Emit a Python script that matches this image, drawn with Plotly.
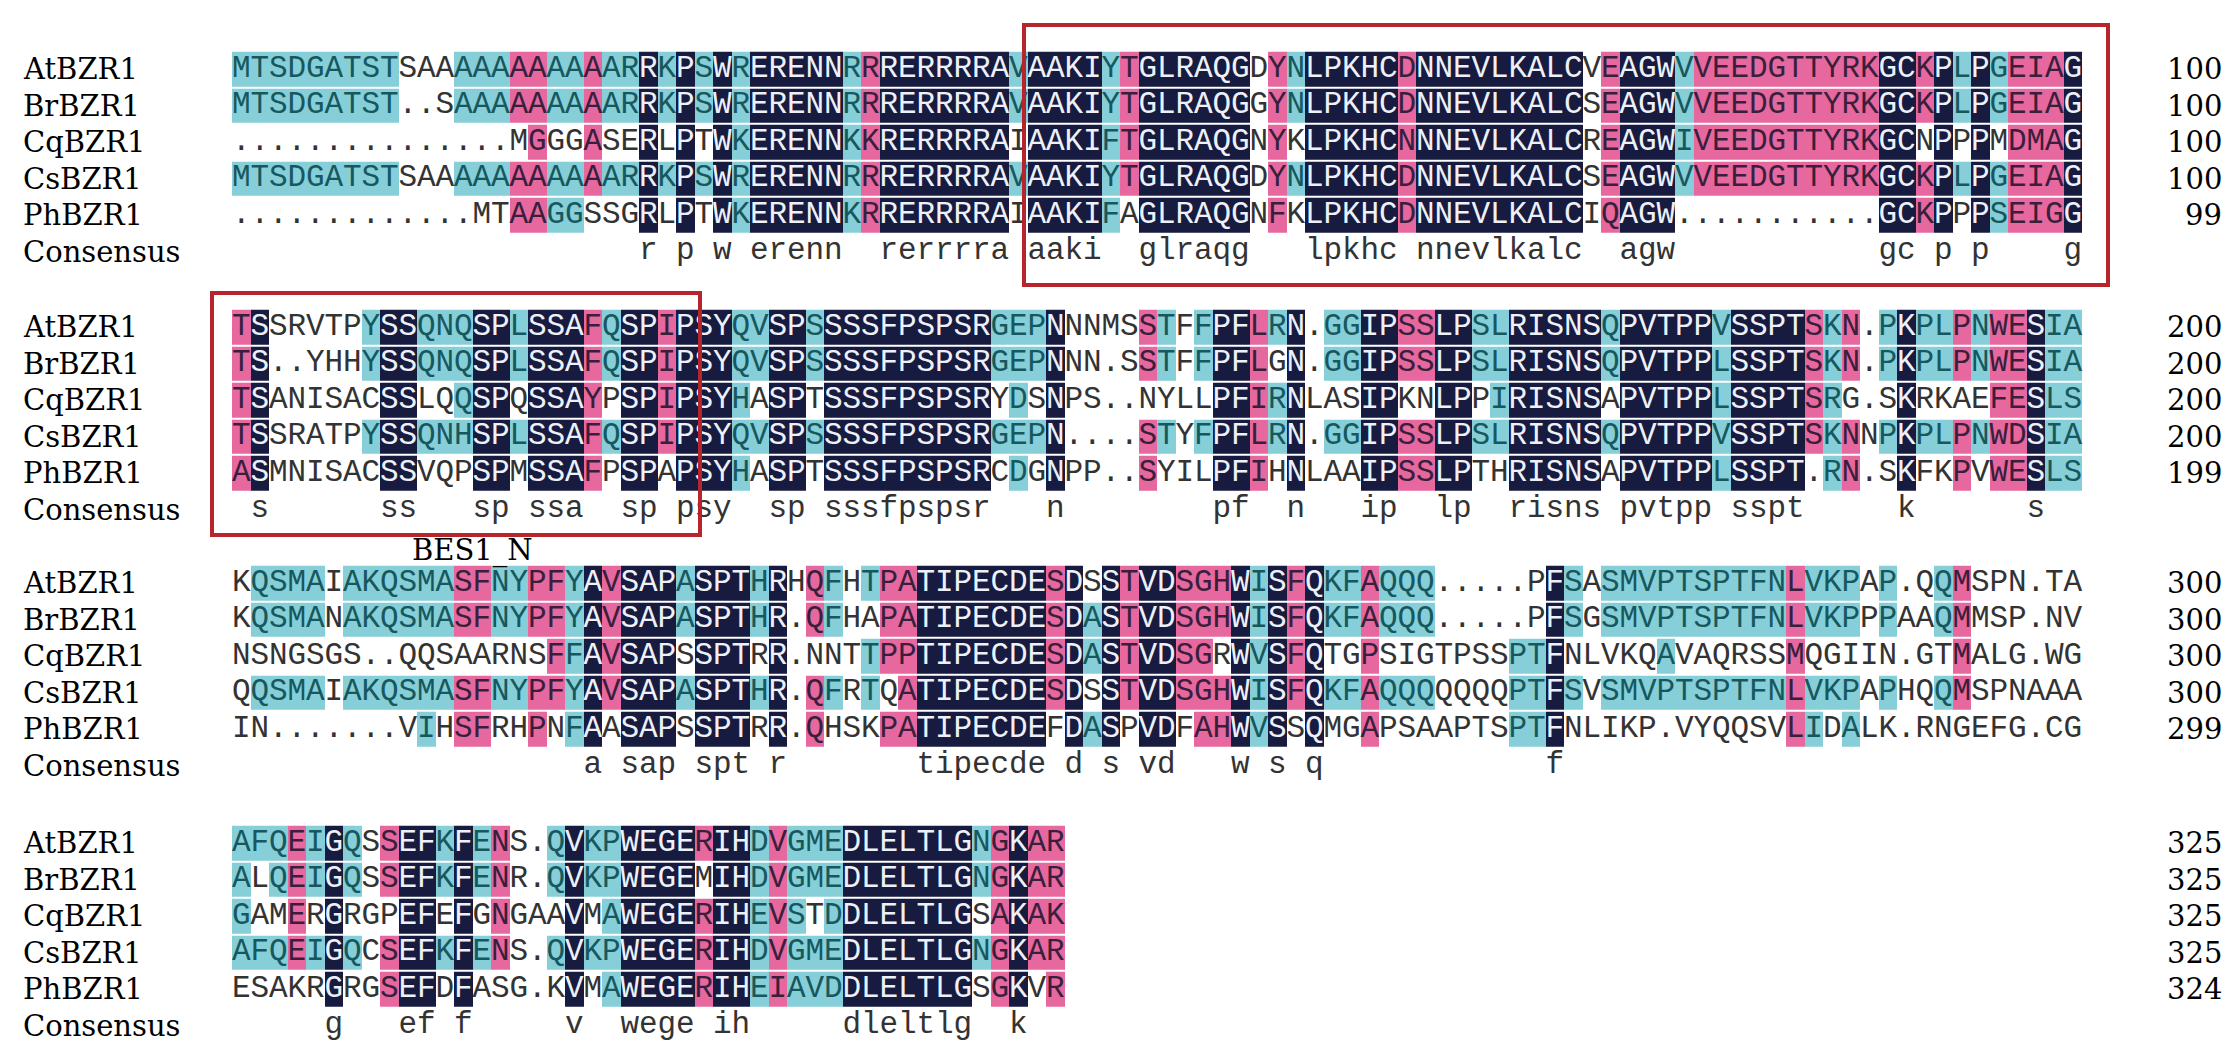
import plotly.graph_objects as go
import numpy as np

# ---------------- data ----------------
names = ["AtBZR1", "BrBZR1", "CqBZR1", "CsBZR1", "PhBZR1"]

At = ["MTSDGATSTSAAAAAAAAAAARRKPSWRERENNRRRERRRRAVAAKIYTGLRAQGDYNLPKHCDNNEVLKALCVEAGWVVEEDGTTYRKGCKPLPGEIAG",
      "TSSRVTPYSSQNQSPLSSAFQSPIPSYQVSPSSSSFPSPSRGEPNNNMSSTFFPFLRN.GGIPSSLPSLRISNSQPVTPPVSSPTSKN.PKPLPNWESIA",
      "KQSMAIAKQSMASFNYPFYAVSAPASPTHRHQFHTPATIPECDESDSSTVDSGHWISFQKFAQQQ.....PFSASMVPTSPTFNLVKPAP.QQMSPN.TA",
      "AFQEIGQSSEFKFENS.QVKPWEGERIHDVGMEDLELTLGNGKAR"]
Br = ["MTSDGATST..SAAAAAAAAARRKPSWRERENNRRRERRRRAVAAKIYTGLRAQGGYNLPKHCDNNEVLKALCSEAGWVVEEDGTTYRKGCKPLPGEIAG",
      "TS..YHHYSSQNQSPLSSAFQSPIPSYQVSPSSSSFPSPSRGEPNNN.SSTFFPFLGN.GGIPSSLPSLRISNSQPVTPPLSSPTSKN.PKPLPNWESIA",
      "KQSMANAKQSMASFNYPFYAVSAPASPTHR.QFHAPATIPECDESDASTVDSGHWISFQKFAQQQ.....PFSGSMVPTSPTFNLVKPPPAAQMMSP.NV",
      "ALQEIGQSSEFKFENR.QVKPWEGEMIHDVGMEDLELTLGNGKAR"]
Cq = ["...............MGGGASERLPTWKERENNKKRERRRRAIAAKIFTGLRAQGNYKLPKHCNNNEVLKALCREAGWIVEEDGTTYRKGCNPPPMDMAG",
      "TSANISACSSLQQSPQSSAYPSPIPSYHASPTSSSFPSPSRYDSNPS..NYLLPFIRNLASIPKNLPPIRISNSAPVTPPLSSPTSRG.SKRKAEFESLS",
      "NSNGSGS..QQSAARNSFFAVSAPSSPTRR.NNTTPPTIPECDESDASTVDSGRWVSFQTGPSIGTPSSPTFNLVKQAVAQRSSMQGIIN.GTMALG.WG",
      "GAMERGRGPEFEFGNGAAVMAWEGERIHEVSTDDLELTLGSAKAK"]
Cs = ["MTSDGATSTSAAAAAAAAAAARRKPSWRERENNRRRERRRRAVAAKIYTGLRAQGDYNLPKHCDNNEVLKALCSEAGWVVEEDGTTYRKGCKPLPGEIAG",
      "TSSRATPYSSQNHSPLSSAFQSPIPSYQVSPSSSSFPSPSRGEPN....STYFPFLRN.GGIPSSLPSLRISNSQPVTPPVSSPTSKNNPKPLPNWDSIA",
      "QQSMAIAKQSMASFNYPFYAVSAPASPTHR.QFRTQATIPECDESDSSTVDSGHWISFQKFAQQQQQQQPTFSVSMVPTSPTFNLVKPAPHQQMSPNAAA",
      "AFQEIGQCSEFKFENS.QVKPWEGERIHDVGMEDLELTLGNGKAR"]
Ph = [".............MTAAGGSSGRLPTWKERENNKRRERRRRAIAAKIFAGLRAQGNFKLPKHCDNNEVLKALCIQAGW...........GCKPPPSEIGG",
      "ASMNISACSSVQPSPMSSAFPSPAPSYHASPTSSSFPSPSRCDGNPP..SYILPFIHNLAAIPSSLPTHRISNSAPVTPPLSSPT.RN.SKFKPVWESLS",
      "IN.......VIHSFRHPNFAASAPSSPTRR.QHSKPATIPECDEFDASPVDFAHWVSSQMGAPSAAPTSPTFNLIKP.VYQQSVLIDALK.RNGEFG.CG",
      "ESAKRGRGSEFDFASG.KVMAWEGERIHEIAVDDLELTLGSGKVR"]

end_numbers = [[100, 100, 100, 100, 99],
               [200, 200, 200, 200, 199],
               [300, 300, 300, 300, 299],
               [325, 325, 325, 325, 324]]

domain_label = "BES1_N"

# shading read from the picture where it differs from plain identity counting
# (species index, block index, column, code)
overrides = [
    (2, 0, 17, 'p'), (4, 0, 18, 'c'), (4, 0, 19, 'c'), (2, 0, 28, 'c'), (4, 0, 28, 'c'),
    (2, 0, 34, 'c'), (4, 0, 34, 'c'), (2, 0, 35, 'p'), (2, 0, 48, 'c'), (4, 0, 48, 'c'),
    (4, 0, 57, 'p'), (2, 0, 64, 'p'), (4, 0, 75, 'p'), (2, 0, 79, 'c'), (4, 0, 96, 'c'),
    (2, 0, 97, 'p'), (2, 0, 98, 'p'), (4, 0, 99, 'p'),
    (4, 1, 1, 'p'), (3, 1, 13, 'c'), (2, 1, 20, 'p'), (2, 1, 28, 'c'), (4, 1, 28, 'c'),
    (2, 1, 43, 'c'), (4, 1, 43, 'c'), (0, 1, 56, 'p'), (1, 1, 56, 'p'), (2, 1, 56, 'p'),
    (3, 1, 56, 'p'), (4, 1, 56, 'p'), (2, 1, 69, 'c'), (0, 1, 81, 'c'), (3, 1, 81, 'c'),
    (2, 1, 87, 'c'), (4, 1, 87, 'c'), (2, 1, 96, 'p'), (3, 1, 97, 'p'), (2, 1, 99, 'c'),
    (4, 1, 99, 'c'), (2, 1, 100, 'c'), (4, 1, 100, 'c'),
    (4, 2, 11, 'c'), (2, 2, 19, 'c'), (4, 2, 19, 'c'), (2, 2, 37, 'p'), (4, 2, 53, 'p'),
    (2, 2, 56, 'c'), (4, 2, 56, 'c'), (2, 2, 62, 'p'), (2, 2, 78, 'c'), (2, 2, 85, 'p'),
    (4, 2, 86, 'c'), (4, 2, 88, 'c'),
    (2, 3, 1, 'c'), (0, 3, 2, 'c'), (3, 3, 2, 'c'), (2, 3, 21, 'c'), (4, 3, 21, 'c'),
    (2, 3, 29, 'c'), (4, 3, 29, 'c'), (4, 3, 30, 'p'), (2, 3, 31, 'c'), (4, 3, 31, 'c'),
    (4, 3, 32, 'c'), (2, 3, 33, 'c'), (4, 3, 33, 'c'), (2, 3, 42, 'p'), (2, 3, 45, 'p'),
]

# ---------------- styling / geometry ----------------
NAVY = "#161b3f"
PINK = "#e6689f"
CYAN = "#86cfd8"
RED = "#b5252b"
TXT = {'n': "#eef0f8", 'p': "#3a1f3c", 'c': "#17585e", 'w': "#333333"}

CW = 18.5                      # px per alignment column
X0 = 224                       # px of left edge of column 1
RP = 36.5                      # px per row
BLOCK_TOP = [61, 319, 575, 835]  # px centre of first row of each block
W, H = 2235, 1055


def X(px):
    return (px - X0) / CW + 0.5


seqs = [At, Br, Cq, Cs, Ph]
for s in seqs:
    for b, blk in enumerate(s):
        assert len(blk) == (100 if b < 3 else 45), (b, len(blk), blk)

shade = {}
consensus = {}
code_val = {'c': 1, 'p': 2, 'n': 3}

for b in range(4):
    L = len(At[b])
    for c in range(L):
        col = [s[b][c] for s in seqs]
        res = [r for r in col if r != '.']
        best, k = None, 0
        for r in sorted(set(res)):
            n = res.count(r)
            if n > k:
                best, k = r, n
        for i, r in enumerate(col):
            code = 'w'
            if r != '.' and r == best:
                code = {5: 'n', 4: 'p', 3: 'c'}.get(k, 'w')
            shade[(i, b, c + 1)] = code
        consensus[(b, c + 1)] = best.lower() if k == 5 else ''

for (i, b, c, code) in overrides:
    shade[(i, b, c)] = code


def row_y(b, i):
    return BLOCK_TOP[b] + i * RP


fig = go.Figure()
cscale = [[0, CYAN], [1 / 3, CYAN], [1 / 3, PINK], [2 / 3, PINK], [2 / 3, NAVY], [1, NAVY]]
for b in range(4):
    L = len(At[b])
    z = np.full((5, L), np.nan)
    for i in range(5):
        for c in range(1, L + 1):
            code = shade[(i, b, c)]
            if code in code_val:
                z[i, c - 1] = code_val[code]
    fig.add_trace(go.Heatmap(
        z=z, x=list(range(1, L + 1)), y=[row_y(b, i) for i in range(5)],
        zmin=0.5, zmax=3.5, colorscale=cscale,
        showscale=False, xgap=0, ygap=2, hoverinfo="skip"))

groups = {k: ([], [], []) for k in TXT}
for (i, b, c), code in shade.items():
    gx, gy, gt = groups[code]
    gx.append(c)
    gy.append(row_y(b, i))
    gt.append(seqs[i][b][c - 1])
for (b, c), ch in consensus.items():
    if ch:
        gx, gy, gt = groups['w']
        gx.append(c)
        gy.append(row_y(b, 5))
        gt.append(ch)

for code, (gx, gy, gt) in groups.items():
    fig.add_trace(go.Scatter(
        x=gx, y=gy, text=gt, mode="text", textposition="middle center",
        textfont=dict(family="Liberation Mono", size=31, color=TXT[code]),
        hoverinfo="skip", cliponaxis=False, showlegend=False))

ann = []
label_font = dict(family="DejaVu Serif", size=29, color="#000000")
for b in range(4):
    for i, nm in enumerate(names):
        ann.append(dict(x=X(13), y=row_y(b, i), text=nm, showarrow=False, xanchor="left",
                        yanchor="middle", font=label_font, xref="x", yref="y"))
        ann.append(dict(x=X(2216), y=row_y(b, i), text=str(end_numbers[b][i]), showarrow=False,
                        xanchor="right", yanchor="middle", font=label_font, xref="x", yref="y"))
    ann.append(dict(x=X(13), y=row_y(b, 5), text="Consensus", showarrow=False, xanchor="left",
                    yanchor="middle", font=label_font, xref="x", yref="y"))
ann.append(dict(x=X(464), y=542, text=domain_label, showarrow=False, xanchor="center",
                yanchor="middle", font=label_font, xref="x", yref="y"))

shapes = [
    dict(type="rect", xref="x", yref="y", x0=X(1016), x1=X(2100), y0=17, y1=277,
         line=dict(color=RED, width=4), fillcolor="rgba(0,0,0,0)", layer="above"),
    dict(type="rect", xref="x", yref="y", x0=X(204), x1=X(692), y0=285, y1=527,
         line=dict(color=RED, width=4), fillcolor="rgba(0,0,0,0)", layer="above"),
]

fig.update_layout(
    width=W, height=H, margin=dict(l=0, r=0, t=0, b=0),
    paper_bgcolor="white", plot_bgcolor="white",
    xaxis=dict(range=[X(0), X(W)], visible=False, fixedrange=True),
    yaxis=dict(range=[H, 0], visible=False, fixedrange=True),
    annotations=ann, shapes=shapes, showlegend=False)

fig.write_html("out.html")
